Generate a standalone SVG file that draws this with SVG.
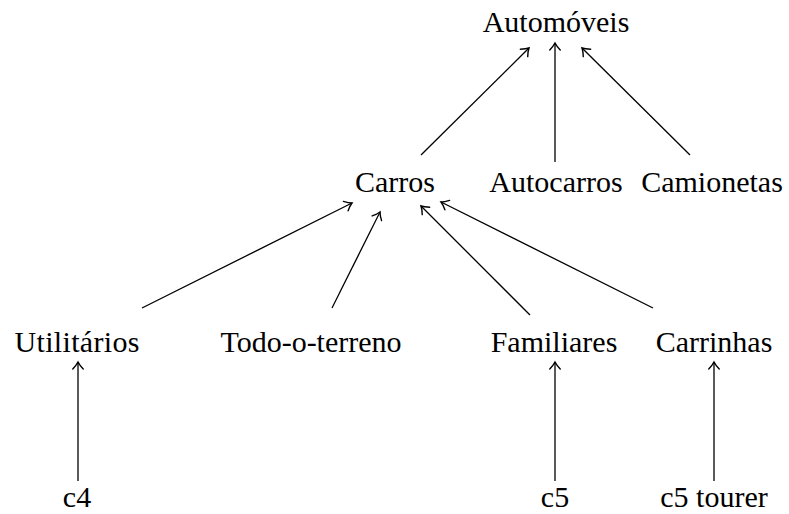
<svg xmlns="http://www.w3.org/2000/svg" width="789" height="514" viewBox="0 0 789 514">
<style>
.e{stroke:#000;stroke-width:1.3;fill:none;marker-end:url(#ah)}
.t{font-family:"Liberation Serif",serif;font-size:30px;text-anchor:middle;fill:#000}
</style>
<defs>
<marker id="ah" markerUnits="userSpaceOnUse" markerWidth="14" markerHeight="14" viewBox="-8 -6 10 12" refX="0" refY="0" orient="auto">
<path d="M-6,-4.5 Q-2.5,-1.2 0,0 Q-2.5,1.2 -6,4.5" fill="none" stroke="#000" stroke-width="1.2" stroke-linecap="round"/>
</marker>
</defs>
<rect width="789" height="514" fill="#fff"/>
<g id="connectors">
<line class="e" x1="421" y1="155" x2="529" y2="48"/>
<line class="e" x1="555" y1="162" x2="555" y2="43"/>
<line class="e" x1="690" y1="155" x2="582" y2="48"/>
<line class="e" x1="142" y1="308" x2="352" y2="203"/>
<line class="e" x1="332" y1="308" x2="380" y2="212"/>
<line class="e" x1="530" y1="315" x2="421" y2="206"/>
<line class="e" x1="653" y1="308" x2="441" y2="202"/>
<line class="e" x1="78" y1="481" x2="78" y2="362"/>
<line class="e" x1="555" y1="481" x2="555" y2="362"/>
<line class="e" x1="714" y1="481" x2="714" y2="362"/>
</g>
<g id="automoveis"><text class="t" x="556" y="32">Automóveis</text></g>
<g id="carros"><text class="t" x="395" y="192">Carros</text></g>
<g id="autocarros"><text class="t" x="556" y="192">Autocarros</text></g>
<g id="camionetas"><text class="t" x="712" y="192">Camionetas</text></g>
<g id="utilitarios"><text class="t" x="77" y="352" textLength="125" lengthAdjust="spacing">Utilitários</text></g>
<g id="todo-o-terreno"><text class="t" x="311" y="352">Todo-o-terreno</text></g>
<g id="familiares"><text class="t" x="554" y="352">Familiares</text></g>
<g id="carrinhas"><text class="t" x="714" y="352">Carrinhas</text></g>
<g id="c4"><text class="t" x="77" y="507">c4</text></g>
<g id="c5"><text class="t" x="555" y="507">c5</text></g>
<g id="c5-tourer"><text class="t" x="714" y="507">c5 tourer</text></g>
</svg>
